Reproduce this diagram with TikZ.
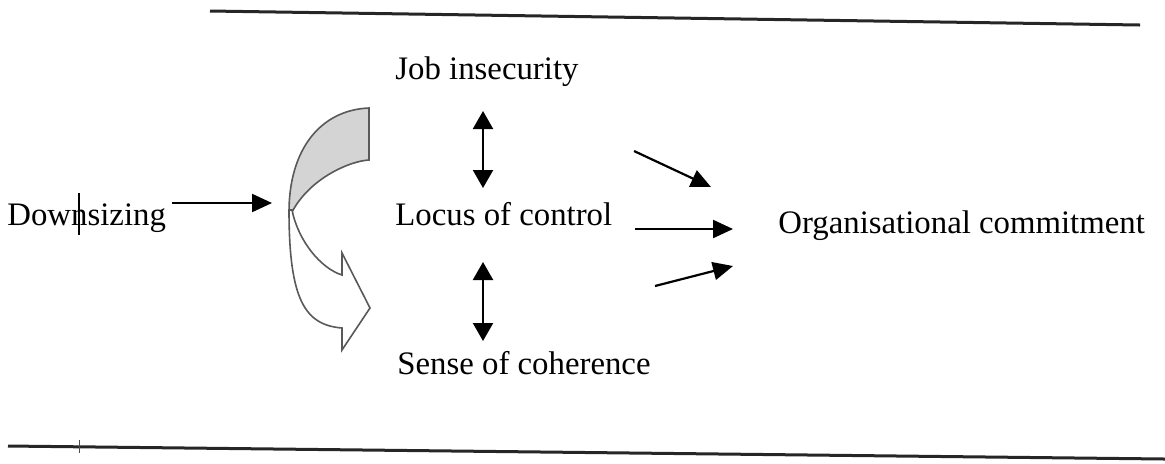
\documentclass[tikz,border=0pt]{standalone}
\usepackage{fontspec}
\setmainfont{Liberation Serif}
\usetikzlibrary{arrows.meta}
\begin{document}
\begin{tikzpicture}[x=0.5pt,y=-0.5pt,
  lbl/.style={font=\fontsize{16.4pt}{19pt}\selectfont, inner sep=0pt, anchor=base west},
  conn/.style={line width=1.1pt, -{Triangle[length=10pt,width=9pt]}},
  dconn/.style={line width=1.1pt, {Triangle[length=9pt,width=10pt]}-{Triangle[length=9pt,width=10pt]}},
  rule/.style={line width=1.5pt, black!85},
  backpart/.style={draw=black!65, line width=0.8pt, fill=black!17},
  frontpart/.style={draw=black!65, line width=0.8pt, fill=white}]
\useasboundingbox (0,0) rectangle (1165,463);
% rules
\draw[rule] (210,11) -- (1140,25);
\draw[rule] (8,446) -- (1165,459);
\draw[line width=0.5pt, black!70] (79,440) -- (79,453);
% labels
\node[lbl] (down) at (7,225) {Downsizing};
\node[lbl] (job) at (395,79) {Job insecurity};
\node[lbl] (loc) at (395,225) {Locus of control};
\node[lbl] (soc) at (397,374) {Sense of coherence};
\node[lbl] (org) at (778,233) {Organisational commitment};
\draw[line width=0.6pt] (79,193) -- (79,235);
% curved arrow (back part)
\path[backpart] (369,108) .. controls (320,110) and (289,150) .. (289,212)
  -- (292,212) .. controls (310,178) and (350,161) .. (369,160) -- cycle;
% curved arrow (front part)
\path[frontpart] (292,210) .. controls (298,240) and (320,268) .. (342,275)
  -- (342,253) -- (370,308) -- (342,350) -- (342,328)
  .. controls (305,325) and (289,300) .. (289,210) -- cycle;
% connector endpoints
\coordinate (dS) at (172,203);
\coordinate (dE) at (272,203);
\coordinate (j1) at (483,111);
\coordinate (j2) at (483,188);
\coordinate (s1) at (483,262);
\coordinate (s2) at (483,341);
\coordinate (a1s) at (634,151);
\coordinate (a1e) at (711,187);
\coordinate (a2s) at (635,229);
\coordinate (a2e) at (733,229);
\coordinate (a3s) at (655,286);
\coordinate (a3e) at (733,266);
\draw[conn] (dS) -- (dE);
\draw[dconn] (j1) -- (j2);
\draw[dconn] (s1) -- (s2);
\draw[conn] (a1s) -- (a1e);
\draw[conn] (a2s) -- (a2e);
\draw[conn] (a3s) -- (a3e);
\end{tikzpicture}
\end{document}
